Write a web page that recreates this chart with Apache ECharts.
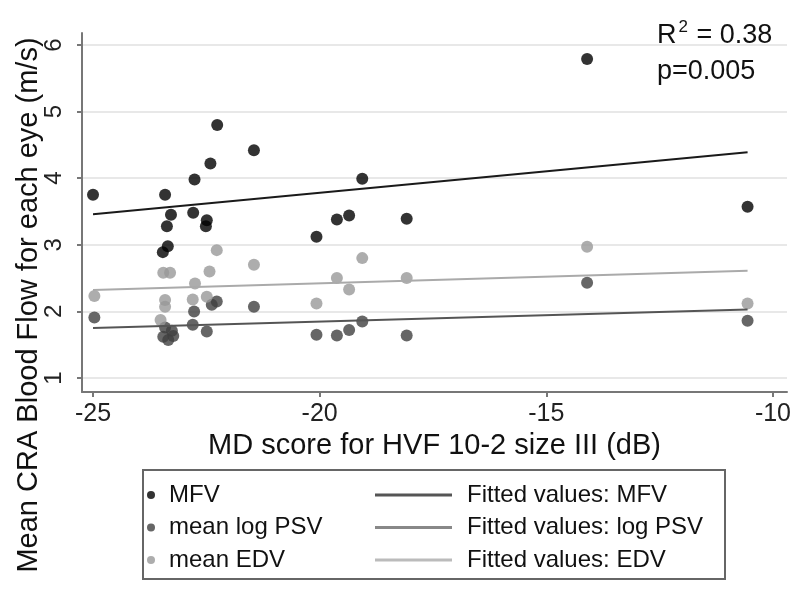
<!DOCTYPE html>
<html>
<head>
<meta charset="utf-8">
<script src="https://cdn.jsdelivr.net/npm/echarts@6/dist/echarts.min.js"></script>
<style>
  html, body { margin: 0; padding: 0; background: #fff; }
  #main { width: 800px; height: 591px; }
</style>
</head>
<body>
<div id="main"></div>
<script>
// MD score (dB) and flow values
var mfvX = [-25.0, -23.41, -23.28, -23.37, -23.46, -23.35, -22.79, -22.76, -22.49, -22.51, -22.41, -22.26, -21.45, -20.07, -19.62, -19.35, -19.06, -18.08, -14.10, -10.56];
var mfvY = [3.75, 3.75, 3.45, 3.28, 2.89, 2.98, 3.48, 3.98, 3.37, 3.28, 4.22, 4.80, 4.42, 3.12, 3.38, 3.44, 3.99, 3.39, 5.79, 3.57];

var psvX = [-24.97, -23.41, -23.26, -23.45, -23.34, -23.23, -22.80, -22.77, -22.49, -22.38, -22.27, -21.45, -20.07, -19.62, -19.35, -19.06, -18.08, -14.10, -10.56];
var psvY = [1.91, 1.76, 1.71, 1.62, 1.57, 1.63, 1.80, 2.00, 1.70, 2.10, 2.15, 2.07, 1.65, 1.64, 1.72, 1.85, 1.64, 2.43, 1.86];

var edvX = [-24.97, -23.45, -23.30, -23.41, -23.41, -23.51, -22.80, -22.75, -22.49, -22.43, -22.27, -21.45, -20.07, -19.62, -19.35, -19.06, -18.08, -14.10, -10.56];
var edvY = [2.23, 2.58, 2.58, 2.17, 2.07, 1.87, 2.18, 2.42, 2.22, 2.60, 2.92, 2.70, 2.12, 2.50, 2.33, 2.80, 2.50, 2.97, 2.12];

// fitted lines (end points)
var fitX = [-25.0, -10.56];
var fitMFV = [3.46, 4.39];
var fitPSV = [1.75, 2.03];
var fitEDV = [2.32, 2.61];

var xTicks = [-25, -20, -15, -10];
var yTicks = [1, 2, 3, 4, 5, 6];

var FONT = '"Liberation Sans", Arial, Helvetica, sans-serif';

function pairs(xs, ys) {
  return xs.map(function (x, i) { return [x, ys[i]]; });
}

var chart = echarts.init(document.getElementById('main'));

var scatterBase = { type: 'scatter', symbol: 'circle', symbolSize: 12 };
var lineBase = { type: 'line', symbol: 'none', silent: true };

chart.setOption({
  animation: false,
  textStyle: { fontFamily: FONT },
  grid: { left: 82, right: 13, top: 33, bottom: 199 },
  xAxis: {
    type: 'value',
    min: -25.243,
    max: -9.69,
    name: 'MD score for HVF 10-2 size III (dB)',
    nameLocation: 'middle',
    nameGap: 36,
    nameTextStyle: { fontSize: 29, color: '#111', fontFamily: FONT },
    axisLine: { onZero: false, lineStyle: { color: '#777', width: 2 } },
    axisTick: { customValues: xTicks, length: 5, lineStyle: { color: '#777', width: 2 } },
    axisLabel: { customValues: xTicks, fontSize: 25, color: '#222', margin: 10 },
    splitLine: { show: false }
  },
  yAxis: {
    type: 'value',
    min: 0.79,
    max: 6.18,
    axisLine: { show: true, onZero: false, lineStyle: { color: '#777', width: 2 } },
    axisTick: { show: true, customValues: yTicks, length: 5, lineStyle: { color: '#777', width: 2 } },
    axisLabel: { customValues: yTicks, fontSize: 24, color: '#222', rotate: 90, margin: 16 },
    splitLine: { show: true, lineStyle: { color: '#e8e8e8', width: 2 } }
  },
  legend: [
    {
      orient: 'vertical',
      left: 142,
      top: 478,
      itemWidth: 26,
      itemHeight: 8,
      itemGap: 8.5,
      textStyle: { fontSize: 24, color: '#111', lineHeight: 24, fontFamily: FONT },
      data: ['MFV', 'mean log PSV', 'mean EDV']
    },
    {
      orient: 'vertical',
      left: 370,
      top: 478,
      icon: 'rect',
      itemWidth: 77,
      itemHeight: 3,
      itemGap: 8.5,
      textStyle: { fontSize: 24, color: '#111', lineHeight: 24, padding: [0, 0, 0, 10], fontFamily: FONT },
      data: ['Fitted values: MFV', 'Fitted values: log PSV', 'Fitted values: EDV']
    }
  ],
  graphic: [
    {
      type: 'rect',
      shape: { x: 143, y: 470, width: 582, height: 109 },
      style: { fill: 'none', stroke: '#666', lineWidth: 2 },
      z: 100
    },
    {
      type: 'text',
      x: 29,
      y: 305,
      rotation: Math.PI / 2,
      style: {
        text: 'Mean CRA Blood Flow for each eye (m/s)',
        font: '29px ' + FONT,
        fill: '#111',
        textAlign: 'center',
        textVerticalAlign: 'middle'
      }
    },
    {
      type: 'text',
      x: 657,
      y: 34,
      style: {
        text: '{b|R}{s|2}{b| = 0.38}',
        rich: {
          b: { fontSize: 27, fontFamily: FONT, fill: '#111', lineHeight: 30, verticalAlign: 'bottom' },
          s: { fontSize: 17, fontFamily: FONT, fill: '#111', lineHeight: 30, verticalAlign: 'top', padding: [0, 1, 0, 2] }
        },
        textVerticalAlign: 'middle'
      }
    },
    {
      type: 'text',
      x: 657,
      y: 72,
      style: {
        text: 'p=0.005',
        font: '27px ' + FONT,
        fill: '#111',
        textVerticalAlign: 'middle'
      }
    }
  ],
  series: [
    Object.assign({ name: 'MFV', data: pairs(mfvX, mfvY), itemStyle: { color: '#000' } }, scatterBase),
    Object.assign({ name: 'mean log PSV', data: pairs(psvX, psvY), itemStyle: { color: '#404040' } }, scatterBase),
    Object.assign({ name: 'mean EDV', data: pairs(edvX, edvY), itemStyle: { color: '#999' } }, scatterBase),
    Object.assign({ name: 'Fitted values: MFV', data: pairs(fitX, fitMFV),
      lineStyle: { color: '#1a1a1a', width: 2 }, itemStyle: { color: '#555' } }, lineBase),
    Object.assign({ name: 'Fitted values: log PSV', data: pairs(fitX, fitPSV),
      lineStyle: { color: '#555', width: 2 }, itemStyle: { color: '#888' } }, lineBase),
    Object.assign({ name: 'Fitted values: EDV', data: pairs(fitX, fitEDV),
      lineStyle: { color: '#aaa', width: 2 }, itemStyle: { color: '#bbb' } }, lineBase)
  ]
});
</script>
</body>
</html>
